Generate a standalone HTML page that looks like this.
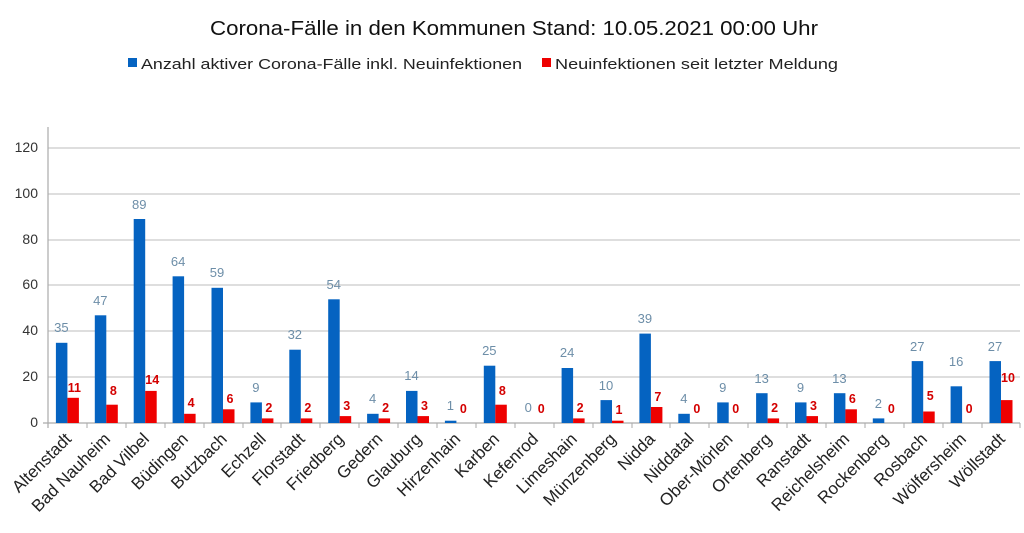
<!DOCTYPE html>
<html><head><meta charset="utf-8"><style>
html,body{margin:0;padding:0;background:#fff;}
svg{display:block;font-family:"Liberation Sans","DejaVu Sans",sans-serif;}
.yl{font-size:14px;fill:#333;text-anchor:end}
.bl{font-size:13px;fill:#6d8ea8;text-anchor:middle}
.rl{font-size:12.5px;fill:#d40000;font-weight:bold;text-anchor:middle}
.xl{font-size:17px;fill:#222;text-anchor:end}
.b{fill:#0563c1}.r{fill:#ee0000}
</style></head><body>
<svg width="1024" height="533" viewBox="0 0 1024 533">
<text x="514" y="35" font-size="20" text-anchor="middle" fill="#111" textLength="608" lengthAdjust="spacingAndGlyphs">Corona-Fälle in den Kommunen Stand: 10.05.2021 00:00 Uhr</text>
<rect x="128" y="58" width="9" height="9" fill="#0563c1"/>
<text x="141" y="69" font-size="15" fill="#222" textLength="381" lengthAdjust="spacingAndGlyphs">Anzahl aktiver Corona-Fälle inkl. Neuinfektionen</text>
<rect x="542" y="58" width="9" height="9" fill="#ee0000"/>
<text x="555" y="69" font-size="15" fill="#222" textLength="283" lengthAdjust="spacingAndGlyphs">Neuinfektionen seit letzter Meldung</text>
<g stroke="#bdbdbd" stroke-width="1">
<line x1="48" y1="148" x2="1020" y2="148"/><line x1="48" y1="194" x2="1020" y2="194"/>
<line x1="48" y1="240" x2="1020" y2="240"/><line x1="48" y1="285" x2="1020" y2="285"/>
<line x1="48" y1="331" x2="1020" y2="331"/><line x1="48" y1="377" x2="1020" y2="377"/>
</g>
<g stroke="#aaa" stroke-width="1.2">
<line x1="48" y1="127" x2="48" y2="428"/><line x1="43" y1="423" x2="1020" y2="423"/>
</g>
<g class="yl"><text x="38" y="152">120</text><text x="38" y="198">100</text><text x="38" y="244">80</text><text x="38" y="289">60</text><text x="38" y="335">40</text><text x="38" y="381">20</text><text x="38" y="427">0</text></g>
<g stroke="#aaa" stroke-width="1">
<line x1="87" y1="423" x2="87" y2="428"/><line x1="126" y1="423" x2="126" y2="428"/><line x1="165" y1="423" x2="165" y2="428"/><line x1="204" y1="423" x2="204" y2="428"/><line x1="243" y1="423" x2="243" y2="428"/><line x1="281" y1="423" x2="281" y2="428"/><line x1="320" y1="423" x2="320" y2="428"/><line x1="359" y1="423" x2="359" y2="428"/><line x1="398" y1="423" x2="398" y2="428"/><line x1="437" y1="423" x2="437" y2="428"/><line x1="476" y1="423" x2="476" y2="428"/><line x1="515" y1="423" x2="515" y2="428"/><line x1="554" y1="423" x2="554" y2="428"/><line x1="593" y1="423" x2="593" y2="428"/><line x1="632" y1="423" x2="632" y2="428"/><line x1="670" y1="423" x2="670" y2="428"/><line x1="709" y1="423" x2="709" y2="428"/><line x1="748" y1="423" x2="748" y2="428"/><line x1="787" y1="423" x2="787" y2="428"/><line x1="826" y1="423" x2="826" y2="428"/><line x1="865" y1="423" x2="865" y2="428"/><line x1="904" y1="423" x2="904" y2="428"/><line x1="943" y1="423" x2="943" y2="428"/><line x1="982" y1="423" x2="982" y2="428"/><line x1="1020" y1="423" x2="1020" y2="428"/>
</g>

<g transform="translate(67.4,0)"><rect class="b" x="-11.5" y="342.8" width="11.5" height="80.2"/><rect class="r" x="0" y="397.8" width="11.5" height="25.2"/><text class="bl" x="-6" y="332">35</text><text class="rl" x="7" y="392">11</text><text class="xl" transform="translate(5,440) rotate(-45)">Altenstadt</text></g>
<g transform="translate(106.3,0)"><rect class="b" x="-11.5" y="315.3" width="11.5" height="107.7"/><rect class="r" x="0" y="404.7" width="11.5" height="18.3"/><text class="bl" x="-6" y="305">47</text><text class="rl" x="7" y="395">8</text><text class="xl" transform="translate(5,440) rotate(-45)">Bad Nauheim</text></g>
<g transform="translate(145.2,0)"><rect class="b" x="-11.5" y="219" width="11.5" height="204"/><rect class="r" x="0" y="390.9" width="11.5" height="32.1"/><text class="bl" x="-6" y="209">89</text><text class="rl" x="7" y="384">14</text><text class="xl" transform="translate(5,440) rotate(-45)">Bad Vilbel</text></g>
<g transform="translate(184.1,0)"><rect class="b" x="-11.5" y="276.3" width="11.5" height="146.7"/><rect class="r" x="0" y="413.8" width="11.5" height="9.2"/><text class="bl" x="-6" y="266">64</text><text class="rl" x="7" y="407">4</text><text class="xl" transform="translate(5,440) rotate(-45)">Büdingen</text></g>
<g transform="translate(223,0)"><rect class="b" x="-11.5" y="287.8" width="11.5" height="135.2"/><rect class="r" x="0" y="409.3" width="11.5" height="13.7"/><text class="bl" x="-6" y="277">59</text><text class="rl" x="7" y="403">6</text><text class="xl" transform="translate(5,440) rotate(-45)">Butzbach</text></g>
<g transform="translate(261.9,0)"><rect class="b" x="-11.5" y="402.4" width="11.5" height="20.6"/><rect class="r" x="0" y="418.4" width="11.5" height="4.6"/><text class="bl" x="-6" y="392">9</text><text class="rl" x="7" y="412">2</text><text class="xl" transform="translate(5,440) rotate(-45)">Echzell</text></g>
<g transform="translate(300.8,0)"><rect class="b" x="-11.5" y="349.7" width="11.5" height="73.3"/><rect class="r" x="0" y="418.4" width="11.5" height="4.6"/><text class="bl" x="-6" y="339">32</text><text class="rl" x="7" y="412">2</text><text class="xl" transform="translate(5,440) rotate(-45)">Florstadt</text></g>
<g transform="translate(339.7,0)"><rect class="b" x="-11.5" y="299.3" width="11.5" height="123.7"/><rect class="r" x="0" y="416.1" width="11.5" height="6.9"/><text class="bl" x="-6" y="289">54</text><text class="rl" x="7" y="410">3</text><text class="xl" transform="translate(5,440) rotate(-45)">Friedberg</text></g>
<g transform="translate(378.6,0)"><rect class="b" x="-11.5" y="413.8" width="11.5" height="9.2"/><rect class="r" x="0" y="418.4" width="11.5" height="4.6"/><text class="bl" x="-6" y="403">4</text><text class="rl" x="7" y="412">2</text><text class="xl" transform="translate(5,440) rotate(-45)">Gedern</text></g>
<g transform="translate(417.5,0)"><rect class="b" x="-11.5" y="390.9" width="11.5" height="32.1"/><rect class="r" x="0" y="416.1" width="11.5" height="6.9"/><text class="bl" x="-6" y="380">14</text><text class="rl" x="7" y="410">3</text><text class="xl" transform="translate(5,440) rotate(-45)">Glauburg</text></g>
<g transform="translate(456.4,0)"><rect class="b" x="-11.5" y="420.7" width="11.5" height="2.3"/><text class="bl" x="-6" y="410">1</text><text class="rl" x="7" y="413">0</text><text class="xl" transform="translate(5,440) rotate(-45)">Hirzenhain</text></g>
<g transform="translate(495.3,0)"><rect class="b" x="-11.5" y="365.7" width="11.5" height="57.3"/><rect class="r" x="0" y="404.7" width="11.5" height="18.3"/><text class="bl" x="-6" y="355">25</text><text class="rl" x="7" y="395">8</text><text class="xl" transform="translate(5,440) rotate(-45)">Karben</text></g>
<g transform="translate(534.2,0)"><text class="bl" x="-6" y="412">0</text><text class="rl" x="7" y="413">0</text><text class="xl" transform="translate(5,440) rotate(-45)">Kefenrod</text></g>
<g transform="translate(573.1,0)"><rect class="b" x="-11.5" y="368" width="11.5" height="55"/><rect class="r" x="0" y="418.4" width="11.5" height="4.6"/><text class="bl" x="-6" y="357">24</text><text class="rl" x="7" y="412">2</text><text class="xl" transform="translate(5,440) rotate(-45)">Limeshain</text></g>
<g transform="translate(612,0)"><rect class="b" x="-11.5" y="400.1" width="11.5" height="22.9"/><rect class="r" x="0" y="420.7" width="11.5" height="2.3"/><text class="bl" x="-6" y="390">10</text><text class="rl" x="7" y="414">1</text><text class="xl" transform="translate(5,440) rotate(-45)">Münzenberg</text></g>
<g transform="translate(650.9,0)"><rect class="b" x="-11.5" y="333.6" width="11.5" height="89.4"/><rect class="r" x="0" y="407" width="11.5" height="16"/><text class="bl" x="-6" y="323">39</text><text class="rl" x="7" y="401">7</text><text class="xl" transform="translate(5,440) rotate(-45)">Nidda</text></g>
<g transform="translate(689.8,0)"><rect class="b" x="-11.5" y="413.8" width="11.5" height="9.2"/><text class="bl" x="-6" y="403">4</text><text class="rl" x="7" y="413">0</text><text class="xl" transform="translate(5,440) rotate(-45)">Niddatal</text></g>
<g transform="translate(728.7,0)"><rect class="b" x="-11.5" y="402.4" width="11.5" height="20.6"/><text class="bl" x="-6" y="392">9</text><text class="rl" x="7" y="413">0</text><text class="xl" transform="translate(5,440) rotate(-45)">Ober-Mörlen</text></g>
<g transform="translate(767.6,0)"><rect class="b" x="-11.5" y="393.2" width="11.5" height="29.8"/><rect class="r" x="0" y="418.4" width="11.5" height="4.6"/><text class="bl" x="-6" y="383">13</text><text class="rl" x="7" y="412">2</text><text class="xl" transform="translate(5,440) rotate(-45)">Ortenberg</text></g>
<g transform="translate(806.5,0)"><rect class="b" x="-11.5" y="402.4" width="11.5" height="20.6"/><rect class="r" x="0" y="416.1" width="11.5" height="6.9"/><text class="bl" x="-6" y="392">9</text><text class="rl" x="7" y="410">3</text><text class="xl" transform="translate(5,440) rotate(-45)">Ranstadt</text></g>
<g transform="translate(845.4,0)"><rect class="b" x="-11.5" y="393.2" width="11.5" height="29.8"/><rect class="r" x="0" y="409.3" width="11.5" height="13.7"/><text class="bl" x="-6" y="383">13</text><text class="rl" x="7" y="403">6</text><text class="xl" transform="translate(5,440) rotate(-45)">Reichelsheim</text></g>
<g transform="translate(884.3,0)"><rect class="b" x="-11.5" y="418.4" width="11.5" height="4.6"/><text class="bl" x="-6" y="408">2</text><text class="rl" x="7" y="413">0</text><text class="xl" transform="translate(5,440) rotate(-45)">Rockenberg</text></g>
<g transform="translate(923.2,0)"><rect class="b" x="-11.5" y="361.1" width="11.5" height="61.9"/><rect class="r" x="0" y="411.5" width="11.5" height="11.5"/><text class="bl" x="-6" y="351">27</text><text class="rl" x="7" y="400">5</text><text class="xl" transform="translate(5,440) rotate(-45)">Rosbach</text></g>
<g transform="translate(962.1,0)"><rect class="b" x="-11.5" y="386.3" width="11.5" height="36.7"/><text class="bl" x="-6" y="366">16</text><text class="rl" x="7" y="413">0</text><text class="xl" transform="translate(5,440) rotate(-45)">Wölfersheim</text></g>
<g transform="translate(1001,0)"><rect class="b" x="-11.5" y="361.1" width="11.5" height="61.9"/><rect class="r" x="0" y="400.1" width="11.5" height="22.9"/><text class="bl" x="-6" y="351">27</text><text class="rl" x="7" y="382">10</text><text class="xl" transform="translate(5,440) rotate(-45)">Wöllstadt</text></g>
</svg>
</body></html>
